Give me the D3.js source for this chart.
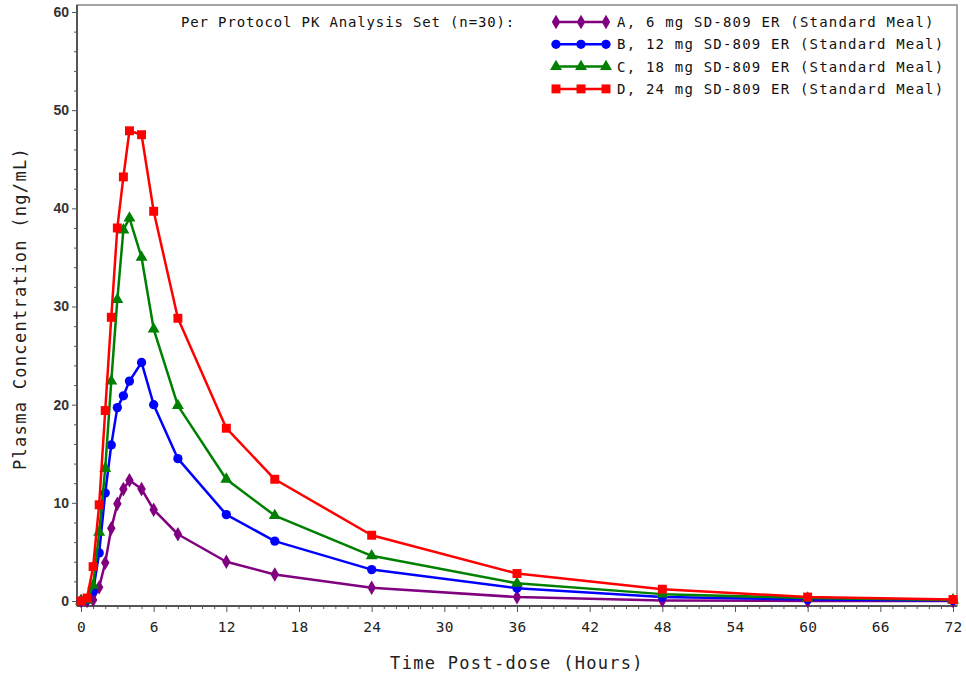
<!DOCTYPE html>
<html>
<head>
<meta charset="utf-8">
<script src="https://cdn.jsdelivr.net/npm/d3@7"></script>
<style>
  html, body { margin: 0; padding: 0; background: #fff; }
  svg { display: block; }
</style>
</head>
<body>
<svg id="chart" width="966" height="677"></svg>
<script>
// ---- data ----
const times = [0, 0.5, 1, 1.5, 2, 2.5, 3, 3.5, 4, 5, 6, 8, 12, 16, 24, 36, 48, 60, 72];
const seriesA = [0, 0, 0.1, 1.4, 3.9, 7.4, 9.9, 11.4, 12.3, 11.4, 9.3, 6.8, 4.0, 2.7, 1.35, 0.4, 0.05, 0.0, 0.0];
const seriesB = [0, 0.1, 1.0, 4.9, 11.0, 15.9, 19.7, 20.9, 22.4, 24.3, 20.0, 14.5, 8.8, 6.1, 3.2, 1.3, 0.4, 0.15, 0.05];
const seriesC = [0, 0.1, 1.6, 7.0, 13.5, 22.4, 30.7, 37.8, 39.0, 35.0, 27.7, 19.9, 12.4, 8.7, 4.6, 1.8, 0.7, 0.3, 0.1];
const seriesD = [0, 0.3, 3.5, 9.8, 19.4, 28.9, 38.0, 43.2, 47.9, 47.5, 39.7, 28.8, 17.6, 12.4, 6.7, 2.8, 1.2, 0.4, 0.15];
const seriesNames = [
  "A, 6 mg SD-809 ER (Standard Meal)",
  "B, 12 mg SD-809 ER (Standard Meal)",
  "C, 18 mg SD-809 ER (Standard Meal)",
  "D, 24 mg SD-809 ER (Standard Meal)"
];
const seriesColors = ["#800080", "#0000ff", "#008000", "#ff0000"];
const seriesSymbols = ["diamond", "circle", "triangle", "square"];
const xTicks = [0, 6, 12, 18, 24, 30, 36, 42, 48, 54, 60, 66, 72];
const yTicks = [0, 10, 20, 30, 40, 50, 60];
const legendTitle = "Per Protocol PK Analysis Set (n=30):";
const xTitle = "Time Post-dose (Hours)";
const yTitle = "Plasma Concentration (ng/mL)";

const allSeries = [seriesA, seriesB, seriesC, seriesD];

// ---- layout ----
const svg = d3.select("#chart");
const frame = { left: 77, right: 957, top: 5, bottom: 606 };
const x = d3.scaleLinear().domain([0, 72]).range([81, 953]);
const y = d3.scaleLinear().domain([0, 60]).range([601, 12]);
const monoFont = "'DejaVu Sans Mono', 'Liberation Mono', monospace";
const axisColor = "#555";

// frame
svg.append("rect")
  .attr("x", frame.left).attr("y", frame.top)
  .attr("width", frame.right - frame.left).attr("height", frame.bottom - frame.top)
  .attr("fill", "none").attr("stroke", "#888").attr("stroke-width", 1.5);

// x axis
const xAxisG = svg.append("g").attr("transform", `translate(0,${frame.bottom})`);
const xMinor = d3.range(0, 73, 1).filter(v => v % 6 !== 0);
xAxisG.call(d3.axisBottom(x).tickValues(xMinor).tickSize(3).tickFormat(""))
  .call(g => g.select(".domain").remove());
xAxisG.append("g").call(d3.axisBottom(x).tickValues(xTicks).tickSize(6).tickPadding(10).tickFormat(d3.format("d")))
  .call(g => g.select(".domain").attr("stroke", axisColor).attr("stroke-width", 2)
      .attr("d", `M${frame.left},0H${frame.right}`));
xAxisG.selectAll("line").attr("stroke", axisColor);
xAxisG.selectAll("text")
  .attr("font-family", monoFont).attr("font-size", 14.5).attr("fill", "#222")
  .attr("letter-spacing", 0.3);

// y axis
const yAxisG = svg.append("g").attr("transform", `translate(${frame.left},0)`);
const yMinor = d3.range(0, 61, 2).filter(v => v % 10 !== 0);
yAxisG.call(d3.axisLeft(y).tickValues(yMinor).tickSize(3).tickFormat(""))
  .call(g => g.select(".domain").remove());
yAxisG.append("g").call(d3.axisLeft(y).tickValues(yTicks).tickSize(5).tickPadding(3).tickFormat(d3.format("d")))
  .call(g => g.select(".domain").attr("stroke", axisColor).attr("stroke-width", 2)
      .attr("d", `M0,${frame.top}V${frame.bottom}`));
yAxisG.selectAll("line").attr("stroke", axisColor);
yAxisG.selectAll("text")
  .attr("font-family", "'Liberation Sans', Arial, sans-serif").attr("font-size", 14)
  .attr("font-weight", "bold").attr("fill", "#333");

// axis titles
svg.append("text")
  .attr("x", x(36)).attr("y", 669)
  .attr("text-anchor", "middle")
  .attr("font-family", monoFont).attr("font-size", 17).attr("letter-spacing", 1.3)
  .attr("fill", "#222")
  .text(xTitle);
svg.append("text")
  .attr("transform", `translate(26,${(frame.top + frame.bottom) / 2 + 3}) rotate(-90)`)
  .attr("text-anchor", "middle")
  .attr("font-family", monoFont).attr("font-size", 17).attr("letter-spacing", 1.3)
  .attr("fill", "#222")
  .text(yTitle);

// symbols
function symbolFor(name, size) {
  const map = { diamond: d3.symbolDiamond, circle: d3.symbolCircle, triangle: d3.symbolTriangle, square: d3.symbolSquare };
  return d3.symbol().type(map[name]).size(size)();
}
const symbolSizes = { diamond: 62, circle: 68, triangle: 62, square: 80 };

// lines & markers
const line = d3.line().x((d, i) => x(times[i])).y(d => y(d));
allSeries.forEach((vals, si) => {
  const g = svg.append("g");
  g.append("path")
    .attr("d", line(vals))
    .attr("fill", "none")
    .attr("stroke", seriesColors[si])
    .attr("stroke-width", 2.5)
    .attr("stroke-linejoin", "round");
  g.selectAll("path.m").data(vals).enter().append("path")
    .attr("class", "m")
    .attr("transform", (d, i) => `translate(${x(times[i])},${y(d)})`)
    .attr("d", symbolFor(seriesSymbols[si], symbolSizes[seriesSymbols[si]]))
    .attr("fill", seriesColors[si]);
});

// legend
const legend = svg.append("g");
legend.append("text")
  .attr("x", 181).attr("y", 27)
  .attr("font-family", monoFont).attr("font-size", 14).attr("letter-spacing", 0.85)
  .attr("fill", "#111")
  .text(legendTitle);
seriesNames.forEach((name, si) => {
  const ly = 22 + si * 22.3;
  const row = legend.append("g").attr("transform", `translate(0,${ly})`);
  row.append("line").attr("x1", 554).attr("x2", 608).attr("y1", 0).attr("y2", 0)
    .attr("stroke", seriesColors[si]).attr("stroke-width", 2.5);
  [556, 581, 606].forEach(px => {
    row.append("path")
      .attr("transform", `translate(${px},0)`)
      .attr("d", symbolFor(seriesSymbols[si], symbolSizes[seriesSymbols[si]]))
      .attr("fill", seriesColors[si]);
  });
  row.append("text")
    .attr("x", 617).attr("y", 5)
    .attr("font-family", monoFont).attr("font-size", 14).attr("letter-spacing", 1.2)
    .attr("fill", "#111")
    .text(name);
});
</script>
</body>
</html>
